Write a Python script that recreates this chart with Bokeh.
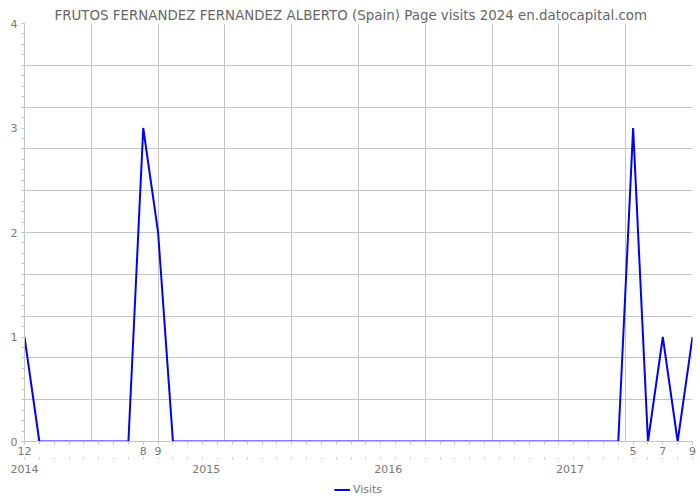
from bokeh.plotting import figure
from bokeh.layouts import column
from bokeh.models import FixedTicker, LinearAxis, Legend, LegendItem, Range1d, ColumnDataSource
from bokeh.embed import file_html
from bokeh.resources import INLINE

TITLE = "FRUTOS FERNANDEZ FERNANDEZ ALBERTO (Spain) Page visits 2024 en.datocapital.com"

# Monthly series: Dec 2013 ... Sep 2017
years = [2013] + [2014] * 12 + [2015] * 12 + [2016] * 12 + [2017] * 9
months = [12] + list(range(1, 13)) * 3 + list(range(1, 10))
visits = [1,
          0, 0, 0, 0, 0, 0, 0, 3, 2, 0, 0, 0,
          0, 0, 0, 0, 0, 0, 0, 0, 0, 0, 0, 0,
          0, 0, 0, 0, 0, 0, 0, 0, 0, 0, 0, 0,
          0, 0, 0, 0, 3, 0, 1, 0, 1]

year_labels = ["2014", "2015", "2016", "2017"]
year_label_pos = [0, 12.25, 24.5, 36.75]

idx = list(range(len(visits)))
src = ColumnDataSource(dict(x=idx, y=visits))

GRID = "#c4c4c4"
TXT = "#777777"
FONT = "DejaVu Sans"
LINE = "#0000ff"

p = figure(width=700, height=478, output_backend="svg", toolbar_location=None,
           x_range=Range1d(0, len(visits) - 1), y_range=Range1d(0, 4),
           min_border_left=24, min_border_right=8, min_border_top=23, min_border_bottom=37)
p.outline_line_color = None
p.background_fill_color = "white"
p.border_fill_color = "white"

p.title.text = TITLE
p.title.align = "left"
p.title.offset = 30
p.title.standoff = 2
p.title.text_color = "#666666"
p.title.text_font = FONT
p.title.text_font_size = "13.4px"
p.title.text_font_style = "normal"

r = p.line("x", "y", source=src, line_color=LINE, line_width=2)

# main x axis: month labels at non-zero months
nz = [i for i, v in zip(idx, visits) if v > 0]
xa = p.xaxis[0]
xa.ticker = FixedTicker(ticks=nz, minor_ticks=idx)
xa.major_label_overrides = {i: str(months[i]) for i in nz}
xa.axis_line_color = GRID
xa.major_tick_line_color = GRID
xa.minor_tick_line_color = GRID
xa.major_tick_in = 0
xa.major_tick_out = 3
xa.minor_tick_in = 0
xa.minor_tick_out = 3
xa.major_label_standoff = 2
xa.major_label_text_color = TXT
xa.major_label_text_font = FONT
xa.major_label_text_font_size = "11px"

# year axis
ya2 = LinearAxis(ticker=FixedTicker(ticks=year_label_pos, minor_ticks=idx))
ya2.major_label_overrides = {pos: lab for pos, lab in zip(year_label_pos, year_labels)}
ya2.axis_line_color = None
ya2.major_tick_line_color = None
ya2.minor_tick_line_color = GRID
ya2.major_tick_in = 0
ya2.major_tick_out = 2
ya2.minor_tick_in = 0
ya2.minor_tick_out = 2
ya2.major_label_standoff = 5
ya2.major_label_text_color = TXT
ya2.major_label_text_font = FONT
ya2.major_label_text_font_size = "11px"
p.add_layout(ya2, "below")

# y axis
ya = p.yaxis[0]
ya.ticker = FixedTicker(ticks=[0, 1, 2, 3, 4], minor_ticks=[i / 10 for i in range(41)])
ya.axis_line_color = GRID
ya.major_tick_line_color = GRID
ya.minor_tick_line_color = GRID
ya.major_tick_in = 0
ya.major_tick_out = 3
ya.minor_tick_in = 0
ya.minor_tick_out = 3
ya.major_label_standoff = 4
ya.major_label_text_color = TXT
ya.major_label_text_font = FONT
ya.major_label_text_font_size = "11px"

# grids: 10 divisions each way
p.xgrid.ticker = FixedTicker(ticks=[i * (len(visits) - 1) / 10 for i in range(11)])
p.ygrid.ticker = FixedTicker(ticks=[i * 0.4 for i in range(11)])
p.xgrid.grid_line_color = GRID
p.ygrid.grid_line_color = GRID

# legend strip below the chart
p2 = figure(width=700, height=22, output_backend="svg", toolbar_location=None,
            x_axis_location=None, y_axis_location=None,
            x_range=Range1d(100, 101), y_range=Range1d(100, 101), min_border=0)
p2.outline_line_color = None
p2.xgrid.visible = False
p2.ygrid.visible = False
r2 = p2.line("x", "y", source=src, line_color=LINE, line_width=2)
legend = Legend(items=[LegendItem(label="Visits", renderers=[r2])], orientation="horizontal",
                location="center", border_line_color=None, background_fill_alpha=0,
                label_text_color=TXT, label_text_font=FONT, label_text_font_size="11px",
                glyph_width=16, glyph_height=10, label_standoff=3, padding=0, margin=0,
                label_height=10, spacing=0)
p2.add_layout(legend)

open("out.html", "w").write(file_html(column(p, p2, spacing=0), INLINE))
